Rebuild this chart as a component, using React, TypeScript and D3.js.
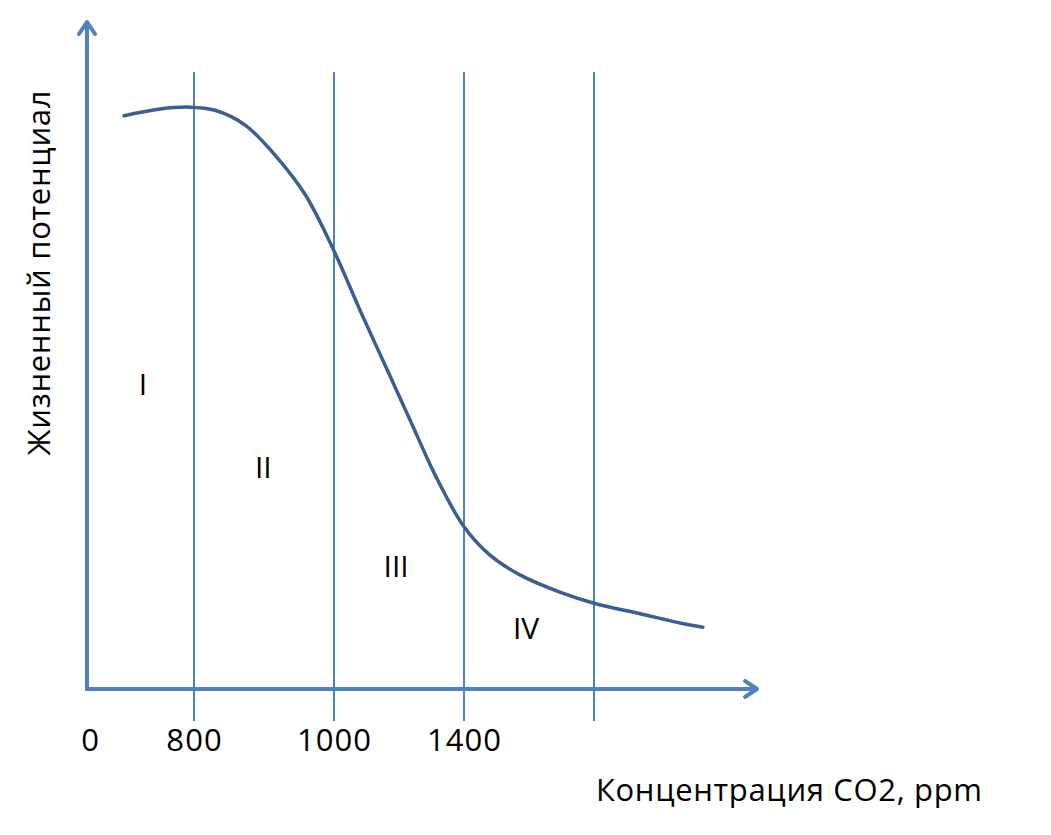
import React from 'react';
import * as d3 from 'd3';

// zone borders on the CO2 axis (ppm); the last one has no label
const borders = [800, 1000, 1400, 1800];
const tickLabels = ['0', '800', '1000', '1400'];
const tickValues = [0, 800, 1000, 1400];
const zoneNames = ['I', 'II', 'III', 'IV'];
const zoneX = [419, 899, 1191, 1591];
const zoneY = [0.495, 0.36, 0.2, 0.1];

// curve: CO2 ppm vs. relative vital potential
const curveX = [277, 546, 770, 830, 873, 916, 959, 1000, 1080, 1157, 1234, 1311, 1400, 1480, 1572, 1695, 1800, 1942, 2065, 2135];
const curveY = [0.929, 0.94, 0.943, 0.938, 0.914, 0.865, 0.801, 0.71, 0.614, 0.525, 0.436, 0.347, 0.263, 0.217, 0.185, 0.157, 0.139, 0.122, 0.107, 0.1];

const W = 1051;
const H = 835;
const font = "'Open Sans', 'Noto Sans', sans-serif";
const axisColor = '#4f81bd';
const lineColor = '#3a6093';

export default function App() {
  // axis is not uniform in ppm, so the scale is piecewise
  const x = d3.scaleLinear()
    .domain([0, 800, 1000, 1400, 1800])
    .range([87, 194, 334, 464, 594]);
  const y = d3.scaleLinear().domain([0, 1]).range([689, 72]);

  const pts: [number, number][] = curveX.map((v, i) => [v, curveY[i]]);
  const line = d3.line<[number, number]>()
    .x(d => x(d[0]))
    .y(d => y(d[1]))
    .curve(d3.curveCatmullRom.alpha(0.5));

  const x0 = x(0);
  const y0 = y(0);
  const xEnd = 757;
  const yTop = 22;

  return (
    <div style={{ margin: -8 }}>
      <svg width={W} height={H} style={{ display: 'block', background: '#fff' }}>
        {borders.map(b => (
          <line key={b} x1={x(b)} x2={x(b)} y1={y(1)} y2={721}
            stroke={axisColor} strokeWidth={2} />
        ))}

        {/* axes with arrow heads */}
        <line x1={x0} x2={x0} y1={y0 + 2} y2={yTop} stroke={axisColor} strokeWidth={4} />
        <path d={`M${x0 - 8},${yTop + 12} L${x0},${yTop} L${x0 + 8},${yTop + 12}`}
          fill="none" stroke={axisColor} strokeWidth={4} strokeLinecap="round" strokeLinejoin="round" />
        <line x1={x0 - 2} x2={xEnd} y1={y0} y2={y0} stroke={axisColor} strokeWidth={4} />
        <path d={`M${xEnd - 12},${y0 - 8} L${xEnd},${y0} L${xEnd - 12},${y0 + 8}`}
          fill="none" stroke={axisColor} strokeWidth={4} strokeLinecap="round" strokeLinejoin="round" />

        <path d={line(pts) ?? ''} fill="none" stroke={lineColor} strokeWidth={3.5} strokeLinecap="round" />

        {tickValues.map((t, i) => (
          <text key={t} x={x(t) + (i === 0 ? 3 : 0)} y={751} textAnchor="middle"
            fontFamily={font} fontSize={31} fill="#000" textLength={i === 0 ? undefined : tickLabels[i].length * 18.5}>{tickLabels[i]}</text>
        ))}

        {zoneNames.map((z, i) => (
          <text key={z} x={x(zoneX[i])} y={y(zoneY[i])} textAnchor="middle" dominantBaseline="central"
            fontFamily={font} fontSize={30} fill="#000">{z}</text>
        ))}

        <text x={982} y={801} textAnchor="end" fontFamily={font} fontSize={31} fill="#000" textLength={386}>
          Концентрация CO2, ppm
        </text>
        <text transform="translate(50,273) rotate(-90)" textAnchor="middle"
          fontFamily={font} fontSize={31} fill="#000" textLength={365}>
          Жизненный потенциал
        </text>
      </svg>
    </div>
  );
}
